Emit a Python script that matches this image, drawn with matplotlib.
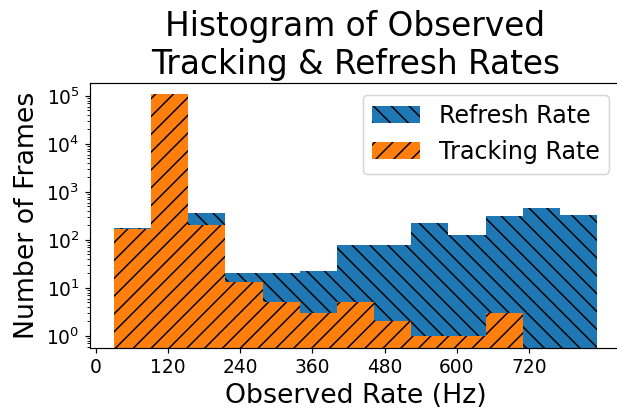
import numpy as np
import matplotlib
matplotlib.use("Agg")
import matplotlib.pyplot as plt

# Bin edges (Hz) and per-bin frame counts
bin_edges = np.linspace(30.4, 833.0, 14)
refresh_counts = [179, 95000, 362, 20, 20, 23, 78, 78, 221, 126, 314, 460, 330]
tracking_counts = [171, 108000, 204, 13, 5, 3, 5, 2, 1, 1, 3, 0, 0]
x_ticks = [0, 120, 240, 360, 480, 600, 720]

DPI = 107
W, H = 617, 408
fig = plt.figure(figsize=(W / DPI, H / DPI), dpi=DPI)
ax = fig.add_axes([90 / W, (H - 347.7) / H, (621 - 90) / W, (347.7 - 82.7) / H])

centers = 0.5 * (bin_edges[:-1] + bin_edges[1:])
ax.set_yscale("log")
ax.hist(centers, bins=bin_edges, weights=refresh_counts, color="#1f77b4",
        hatch="\\\\", label="Refresh Rate")
ax.hist(centers, bins=bin_edges, weights=tracking_counts, color="#ff7f0e",
        hatch="//", label="Tracking Rate")

ax.set_xlim(-9.6, 873)
ax.set_ylim(10 ** -0.245, 10 ** 5.275)
ax.set_xticks(x_ticks)
ax.tick_params(axis="both", labelsize=12.5)

ax.set_title("Histogram of Observed\nTracking & Refresh Rates", fontsize=22)
ax.set_xlabel("Observed Rate (Hz)", fontsize=18)
ax.set_ylabel("Number of Frames", fontsize=18)
ax.legend(loc="upper right", fontsize=16)

fig.savefig("out.png", dpi=DPI)
